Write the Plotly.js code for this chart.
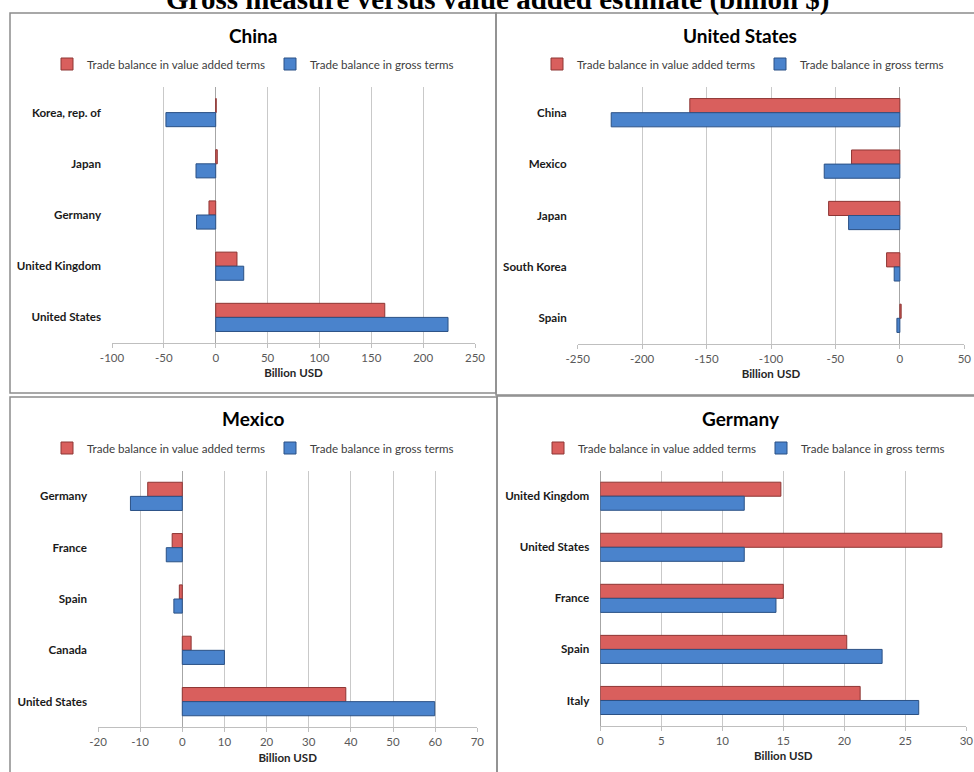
<!DOCTYPE html>
<html>
<head>
<meta charset="utf-8">
<script src="https://cdn.plot.ly/plotly-3.0.1.min.js"></script>
<style>html,body{margin:0;padding:0;background:#fff;}#chart{width:974px;height:772px;}</style>
</head>
<body>
<div id="chart"></div>
<script>
// ---- Data ----
var seriesNames = ['Trade balance in value added terms', 'Trade balance in gross terms'];

var chinaPartners = ['Korea, rep. of', 'Japan', 'Germany', 'United Kingdom', 'United States'];
var chinaValueAdded = [0.5, 1.5, -6.5, 20.5, 163];
var chinaGross = [-48, -19, -18.5, 27, 224];
var chinaTicks = [-100, -50, 0, 50, 100, 150, 200, 250];
var chinaTickText = ['-100', '-50', '0', '50', '100', '150', '200', '250'];

var usPartners = ['China', 'Mexico', 'Japan', 'South Korea', 'Spain'];
var usValueAdded = [-163, -37.5, -55.3, -10.3, 1];
var usGross = [-224, -58.7, -39.8, -4.4, -2.3];
var usTicks = [-250, -200, -150, -100, -50, 0, 50];
var usTickText = ['-250', '-200', '-150', '-100', '-50', '0', '50'];

var mexicoPartners = ['Germany', 'France', 'Spain', 'Canada', 'United States'];
var mexicoValueAdded = [-8.2, -2.4, -0.7, 2.1, 38.8];
var mexicoGross = [-12.3, -3.8, -2.0, 10.0, 59.9];
var mexicoTicks = [-20, -10, 0, 10, 20, 30, 40, 50, 60, 70];
var mexicoTickText = ['-20', '-10', '0', '10', '20', '30', '40', '50', '60', '70'];

var germanyPartners = ['United Kingdom', 'United States', 'France', 'Spain', 'Italy'];
var germanyValueAdded = [14.8, 28.0, 15.0, 20.2, 21.3];
var germanyGross = [11.8, 11.8, 14.4, 23.1, 26.1];
var germanyTicks = [0, 5, 10, 15, 20, 25, 30];
var germanyTickText = ['0', '5', '10', '15', '20', '25', '30'];

var panelTitles = ['China', 'United States', 'Mexico', 'Germany'];
var mainTitle = 'Gross measure versus value added estimate (billion $)';
var axisTitle = 'Billion USD';

// ---- Styling ----
var W = 974, H = 772;
function px(x) { return x / W; }
function py(y) { return 1 - y / H; }
var FONT = 'Lato, "Open Sans", sans-serif';
var RED = '#d95f5d', RED_LINE = '#8e3634';
var BLUE = '#4a83cc', BLUE_LINE = '#2b5185';

var panels = [
  {partners: chinaPartners, va: chinaValueAdded, gross: chinaGross, tv: chinaTicks, tt: chinaTickText,
   xa: 'x', ya: 'y', leg: 'legend',
   dom: [112, 475, 87, 343], range: [-100, 250], titlePos: [253, 35], legPos: [253, 64]},
  {partners: usPartners, va: usValueAdded, gross: usGross, tv: usTicks, tt: usTickText,
   xa: 'x2', ya: 'y2', leg: 'legend2',
   dom: [577.7, 964.3, 87, 344], range: [-250, 50], titlePos: [740, 35], legPos: [743, 64]},
  {partners: mexicoPartners, va: mexicoValueAdded, gross: mexicoGross, tv: mexicoTicks, tt: mexicoTickText,
   xa: 'x3', ya: 'y3', leg: 'legend3',
   dom: [98, 477.3, 470.7, 727.3], range: [-20, 70], titlePos: [253, 418], legPos: [253, 448]},
  {partners: germanyPartners, va: germanyValueAdded, gross: germanyGross, tv: germanyTicks, tt: germanyTickText,
   xa: 'x4', ya: 'y4', leg: 'legend4',
   dom: [600.3, 966.3, 470.7, 726], range: [0, 30], titlePos: [741, 418], legPos: [744, 448]}
];

var data = [];
var layout = {
  width: W, height: H,
  margin: {l: 0, r: 0, t: 0, b: 0},
  paper_bgcolor: '#ffffff', plot_bgcolor: '#ffffff',
  barmode: 'group', bargap: 0.45, bargroupgap: 0,
  font: {family: FONT, size: 11, color: '#404040'},
  showlegend: true,
  annotations: [], shapes: []
};

panels.forEach(function (p, i) {
  data.push({
    type: 'bar', orientation: 'h', name: seriesNames[0],
    y: p.partners, x: p.va, xaxis: p.xa, yaxis: p.ya, legend: p.leg,
    marker: {color: RED, line: {color: RED_LINE, width: 1}},
    hoverinfo: 'x+y+name'
  });
  data.push({
    type: 'bar', orientation: 'h', name: seriesNames[1],
    y: p.partners, x: p.gross, xaxis: p.xa, yaxis: p.ya, legend: p.leg,
    marker: {color: BLUE, line: {color: BLUE_LINE, width: 1}},
    hoverinfo: 'x+y+name'
  });
  var sfx = i === 0 ? '' : String(i + 1);
  layout['xaxis' + sfx] = {
    domain: [px(p.dom[0]), px(p.dom[1])],
    anchor: p.ya,
    range: p.range, tickmode: 'array', tickvals: p.tv, ticktext: p.tt,
    showgrid: true, gridcolor: '#c9c9c9', gridwidth: 1,
    zeroline: true, zerolinecolor: '#a6a6a6', zerolinewidth: 1,
    showline: true, linecolor: '#bfbfbf', linewidth: 1,
    ticks: 'outside', ticklen: 4, tickcolor: '#bfbfbf',
    tickfont: {family: FONT, size: 11.5, color: '#595959'},
    title: {text: axisTitle, font: {family: FONT, size: 11.5, color: '#262626', weight: 'bold'}, standoff: 6},
    fixedrange: true
  };
  layout['yaxis' + sfx] = {
    domain: [py(p.dom[3]), py(p.dom[2])],
    anchor: p.xa,
    type: 'category',
    autorange: 'reversed',
    showgrid: false, zeroline: false, showline: false,
    ticks: '', ticklabelstandoff: 10,
    tickfont: {family: FONT, size: 11.6, color: '#1a1a1a', weight: 'bold'},
    fixedrange: true
  };
  layout[p.leg] = {
    orientation: 'h',
    x: px(p.legPos[0]), y: py(p.legPos[1]),
    xanchor: 'center', yanchor: 'middle',
    bgcolor: 'rgba(0,0,0,0)',
    font: {family: FONT, size: 11.6, color: '#404040'},
    itemwidth: 30, traceorder: 'normal'
  };
  layout.annotations.push({
    text: panelTitles[i], xref: 'paper', yref: 'paper',
    x: px(p.titlePos[0]), y: py(p.titlePos[1]), xanchor: 'center', yanchor: 'middle',
    showarrow: false, font: {family: FONT, size: 19, color: '#000000', weight: 'bold'}
  });
});

layout.annotations.push({
  text: mainTitle, xref: 'paper', yref: 'paper',
  x: px(498), y: py(18), xanchor: 'center', yanchor: 'bottom',
  showarrow: false, font: {family: '"Liberation Serif", "Times New Roman", serif', size: 29, color: '#000000', weight: 'bold'}
});

// panel frames
var frames = [[10, 13, 496, 393], [496, 13, 985, 395], [10, 397, 497, 785], [497, 396, 985, 785]];
frames.forEach(function (f) {
  layout.shapes.push({
    type: 'rect', xref: 'paper', yref: 'paper',
    x0: px(f[0]), x1: px(f[2]), y0: py(f[3]), y1: py(f[1]),
    line: {color: '#8c8c8c', width: 1.5}, fillcolor: 'rgba(0,0,0,0)', layer: 'below'
  });
});

Plotly.newPlot('chart', data, layout, {displayModeBar: false, staticPlot: true});
</script>
</body>
</html>
